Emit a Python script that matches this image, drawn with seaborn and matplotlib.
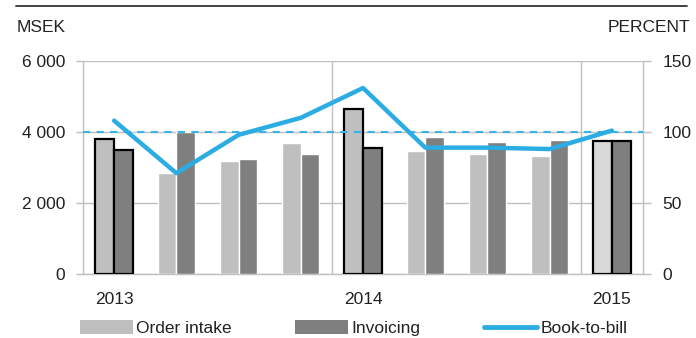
import numpy as np
import pandas as pd
import matplotlib
matplotlib.use("Agg")
import matplotlib.pyplot as plt
from matplotlib.lines import Line2D
from matplotlib.patches import Patch
import seaborn as sns

quarters = ["Q1 2013", "Q2 2013", "Q3 2013", "Q4 2013",
            "Q1 2014", "Q2 2014", "Q3 2014", "Q4 2014", "Q1 2015"]
order_intake = [3790, 2840, 3180, 3700, 4640, 3470, 3370, 3320, 3740]
invoicing = [3490, 3990, 3230, 3370, 3560, 3870, 3730, 3770, 3740]
book_to_bill = [108, 71, 98, 110, 131, 89, 89, 88, 101]
year_labels = ["2013", "2014", "2015"]
left_ticks = [0, 2000, 4000, 6000]
left_tick_labels = ["0", "2 000", "4 000", "6 000"]
right_ticks = [0, 50, 100, 150]

sns.set_theme(style="white")
plt.rcParams["font.family"] = ["Liberation Sans", "DejaVu Sans"]

C_ORDER = "#bfbfbf"
C_INV = "#7f7f7f"
C_LINE = "#2badE3"
C_GRID = "#bfbfbf"
FS = 12.5

df = pd.DataFrame({
    "quarter": quarters * 2,
    "series": ["Order intake"] * len(quarters) + ["Invoicing"] * len(quarters),
    "value": order_intake + invoicing,
})
df_line = pd.DataFrame({"pos": np.arange(len(quarters)), "btb": book_to_bill})

fig = plt.figure(figsize=(6.96, 3.38), dpi=100)
ax = fig.add_axes([0.1193, 0.1893, 0.8046, 0.6302])

sns.barplot(data=df, x="quarter", y="value", hue="series", order=quarters,
            hue_order=["Order intake", "Invoicing"],
            palette=[C_ORDER, C_INV], width=0.6, gap=0, saturation=1,
            legend=False, ax=ax, zorder=3)

# highlight first quarter of each year
for cont in ax.containers:
    for i, bar in enumerate(cont):
        if quarters[i].startswith("Q1"):
            bar.set_edgecolor("black")
            bar.set_linewidth(1.6)
ax.containers[0][len(quarters) - 1].set_facecolor("#d9d9d9")

ax.set_xlim(-0.5, len(quarters) - 0.5)
ax.set_ylim(0, 6000)
ax.set_yticks(left_ticks)
ax.set_yticklabels(left_tick_labels)
ax.set_xlabel("")
ax.set_ylabel("")

year_pos = [i for i, q in enumerate(quarters) if q.startswith("Q1")]
ax.set_xticks(year_pos)
ax.set_xticklabels(year_labels)
ax.set_xticks(np.arange(-0.5, len(quarters)), minor=True)
ax.tick_params(axis="x", which="major", length=0, pad=13, labelsize=FS, colors="#222222")
ax.tick_params(axis="x", which="minor", length=6, width=1, color=C_GRID, direction="out")
ax.tick_params(axis="y", length=5, width=1, color=C_GRID, pad=8, labelsize=FS, labelcolor="#222222", left=True)

for y in left_ticks:
    ax.axhline(y, color=C_GRID, lw=1, zorder=1)
for xb in [3.5, 7.5]:
    ax.axvline(xb, color=C_GRID, lw=1, zorder=1)

for s in ["left", "right", "bottom"]:
    ax.spines[s].set_color(C_GRID)
    ax.spines[s].set_linewidth(1)
ax.spines["top"].set_visible(False)

ax2 = ax.twinx()
ax2.set_ylim(0, 150)
ax2.axhline(100, color="#3bb3e6", lw=1.5, ls=(0, (3.5, 3)), zorder=2)
sns.lineplot(data=df_line, x="pos", y="btb", color=C_LINE, lw=3.2, ax=ax2,
             solid_capstyle="round", zorder=4)
ax2.set_yticks(right_ticks)
ax2.tick_params(axis="y", length=6, width=1, color=C_GRID, pad=8, labelsize=FS,
                labelcolor="#222222", right=True)
ax2.set_ylabel("")
ax2.set_xlabel("")
ax2.set_xlim(-0.5, len(quarters) - 0.5)
for s in ["left", "right", "bottom", "top"]:
    ax2.spines[s].set_visible(False)

fig.text(17 / 696, 1 - 27 / 338, "MSEK", fontsize=FS, va="center", ha="left", color="#222222")
fig.text(690 / 696, 1 - 27 / 338, "PERCENT", fontsize=FS, va="center", ha="right", color="#222222")
fig.add_artist(Line2D([16 / 696, 687 / 696], [1 - 6 / 338, 1 - 6 / 338],
                      color="#333333", lw=1.3, transform=fig.transFigure))

handles = [Patch(facecolor=C_ORDER, edgecolor="none"),
           Patch(facecolor=C_INV, edgecolor="none"),
           Line2D([0], [0], color=C_LINE, lw=3.5, solid_capstyle="round")]
fig.legend(handles, ["Order intake", "Invoicing", "Book-to-bill"],
           loc="center left", bbox_to_anchor=(80 / 696, 1 - 328 / 338), ncol=3,
           frameon=False, fontsize=FS, handlelength=3.05, handleheight=0.9,
           handletextpad=0.2, columnspacing=3.65, borderaxespad=0, borderpad=0,
           labelcolor="#222222")

fig.savefig("out.png", dpi=100)
